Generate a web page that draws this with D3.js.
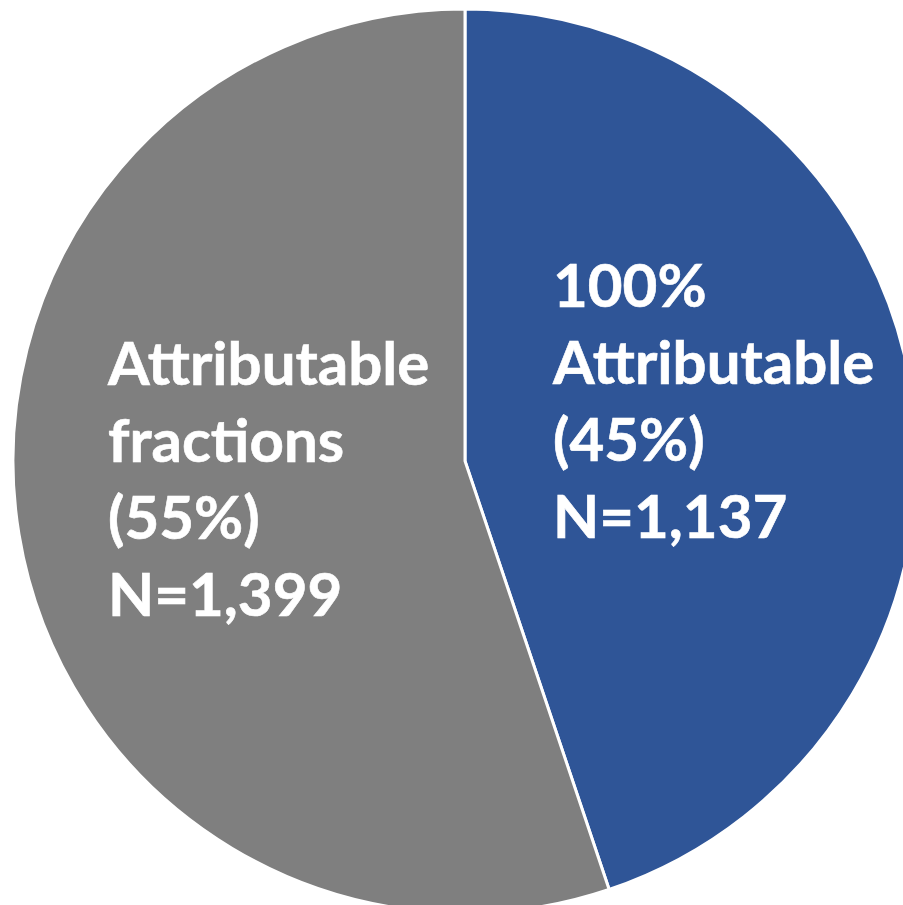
<!DOCTYPE html>
<html>
<head>
<meta charset="utf-8">
<script src="https://cdn.jsdelivr.net/npm/d3@7/dist/d3.min.js"></script>
<style>
  html, body { margin: 0; padding: 0; background: #fff; }
  svg { display: block; }
</style>
</head>
<body>
<svg id="chart" width="903" height="905"></svg>
<script>
// Slice data
const categories = ["100% Attributable", "Attributable fractions"];
const counts = [1137, 1399];
const percentLabels = ["(45%)", "(55%)"];
const labelLines = [
  ["100%", "Attributable", "(45%)", "N=1,137"],
  ["Attributable", "fractions", "(55%)", "N=1,399"]
];
const colors = ["#2F5597", "#7F7F7F"];

const width = 903, height = 905;
const cx = 465, cy = 461, radius = 452;

const svg = d3.select("#chart");
const g = svg.append("g").attr("transform", `translate(${cx},${cy})`);

const pie = d3.pie().sort(null).value(d => d.value);
const arcs = pie(categories.map((c, i) => ({ name: c, value: counts[i], i })));

const arc = d3.arc().innerRadius(0).outerRadius(radius);

g.selectAll("path.slice")
  .data(arcs)
  .join("path")
  .attr("class", "slice")
  .attr("d", arc)
  .attr("fill", d => colors[d.data.i])
  .attr("stroke", "#fff")
  .attr("stroke-width", 3)
  .attr("stroke-linejoin", "round");

// Label blocks, left-aligned, four lines each
const labelPos = [
  { x: 553, y: 307 },
  { x: 108, y: 385 }
];
const lineStep = 77;

labelLines.forEach((lines, i) => {
  const t = svg.append("text")
    .attr("x", labelPos[i].x)
    .attr("y", labelPos[i].y)
    .attr("fill", "#fff")
    .attr("font-family", "Lato, 'Open Sans', sans-serif")
    .attr("font-weight", "bold")
    .attr("font-size", 60)
    .attr("stroke", "#fff")
    .attr("stroke-width", 0.6);
  lines.forEach((line, k) => {
    t.append("tspan")
      .attr("x", labelPos[i].x)
      .attr("y", labelPos[i].y + k * lineStep)
      .text(line);
  });
});
</script>
</body>
</html>
